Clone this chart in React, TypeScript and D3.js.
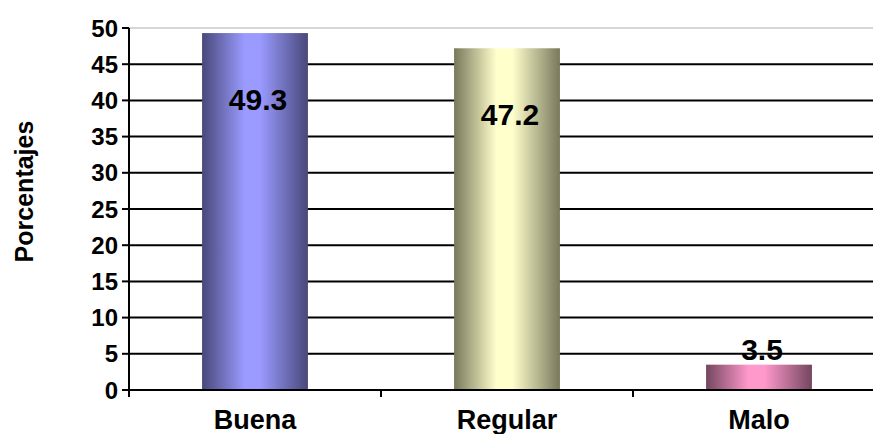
import React from "react";
import * as d3 from "d3";

const categories = ["Buena", "Regular", "Malo"];
const values = [49.3, 47.2, 3.5];
const yTicks = [0, 5, 10, 15, 20, 25, 30, 35, 40, 45, 50];
const barColors = [
  { edge: "#48487a", mid: "#9a9aff" },
  { edge: "#78785c", mid: "#ffffcc" },
  { edge: "#74465e", mid: "#ff99cc" },
];

const W = 873;
const H = 434;
const left = 129;
const right = 885;
const top = 28;
const bottom = 390;

export default function App() {
  const x = d3.scaleBand<string>().domain(categories).range([left, right]).paddingInner(0.58).paddingOuter(0.29);
  const y = d3.scaleLinear().domain([0, 50]).range([bottom, top]);
  const step = (right - left) / categories.length;
  const font = "Arial, 'Liberation Sans', sans-serif";

  return (
    <svg width={W} height={H} style={{ position: "absolute", left: 0, top: 0, background: "#fff" }} fontFamily={font}>
      <defs>
        {barColors.map((c, i) => (
          <linearGradient key={i} id={`g${i}`} x1="0" x2="1" y1="0" y2="0">
            <stop offset="0%" stopColor={c.edge} />
            <stop offset="40%" stopColor={c.mid} />
            <stop offset="55%" stopColor={c.mid} />
            <stop offset="100%" stopColor={c.edge} />
          </linearGradient>
        ))}
      </defs>
      {yTicks.filter((t) => t > 0).map((t) => (
        <line key={t} x1={left} x2={W} y1={y(t)} y2={y(t)} stroke={t === 50 ? "#c8c8c8" : "#000"} strokeWidth={t === 50 ? 1.5 : 2} />
      ))}
      {categories.map((c, i) => (
        <rect key={c} x={x(c)} y={y(values[i])} width={x.bandwidth()} height={bottom - y(values[i])} fill={`url(#g${i})`} />
      ))}
      <line x1={left} x2={left} y1={top} y2={bottom} stroke="#000" strokeWidth={2} />
      <line x1={left} x2={W} y1={bottom} y2={bottom} stroke="#000" strokeWidth={2} />
      {yTicks.map((t) => (
        <g key={t}>
          <line x1={left - 7} x2={left} y1={y(t)} y2={y(t)} stroke="#000" strokeWidth={2} />
          <text x={118} y={y(t)} dy="0.36em" textAnchor="end" fontSize={24} fontWeight="bold">{t}</text>
        </g>
      ))}
      {d3.range(categories.length + 1).map((i) => (
        <line key={i} x1={left + i * step} x2={left + i * step} y1={bottom} y2={bottom + 7} stroke="#000" strokeWidth={2} />
      ))}
      {categories.map((c) => (
        <text key={c} x={x(c)! + x.bandwidth() / 2} y={429} textAnchor="middle" fontSize={27} fontWeight="bold">{c}</text>
      ))}
      {categories.map((c, i) => {
        const h = bottom - y(values[i]);
        const cy = h > 100 ? y(values[i]) + 66 : y(values[i]) - 15;
        return (
          <text key={c} x={x(c)! + x.bandwidth() / 2 + 3} y={cy} dy="0.36em" textAnchor="middle" fontSize={30} fontWeight="bold">{values[i]}</text>
        );
      })}
      <text transform={`translate(33,191.5) rotate(-90)`} textAnchor="middle" fontSize={25} fontWeight="bold">Porcentajes</text>
    </svg>
  );
}
